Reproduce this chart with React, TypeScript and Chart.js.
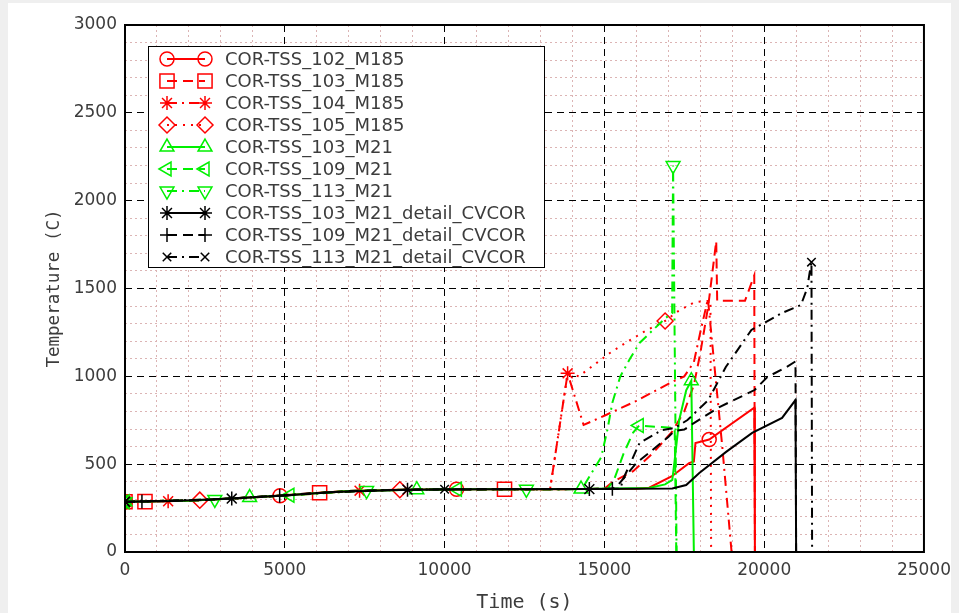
import React, { useEffect, useRef } from 'react';
import { Chart, registerables } from 'chart.js';
import { drawPoint } from 'chart.js/helpers';

Chart.register(...registerables);

// ---------- data (time s / temperature C) ----------
const names = [
  'COR-TSS_102_M185',
  'COR-TSS_103_M185',
  'COR-TSS_104_M185',
  'COR-TSS_105_M185',
  'COR-TSS_103_M21',
  'COR-TSS_109_M21',
  'COR-TSS_113_M21',
  'COR-TSS_103_M21_detail_CVCOR',
  'COR-TSS_109_M21_detail_CVCOR',
  'COR-TSS_113_M21_detail_CVCOR',
];

const t102 = [0, 2000, 4000, 4850, 6000, 7000, 8500, 10375, 13000, 16000, 16400, 17100, 17650, 17800, 17850, 18280, 19690, 19710];
const v102 = [286, 292, 311, 320, 336, 347, 354, 357, 357, 360, 366, 430, 506, 515, 620, 640, 822, 0];
const m102 = [0, 4850, 10375, 18280];

const t103a = [0, 625, 2000, 4000, 6090, 7000, 9000, 11875, 14000, 15000, 15250, 15900, 16500, 17100, 17500, 17800, 18000, 18250, 18500, 18530, 19400, 19690, 19710];
const v103a = [286, 287, 292, 311, 337, 347, 355, 357, 358, 360, 398, 460, 560, 680, 800, 950, 1130, 1400, 1770, 1430, 1430, 1575, 0];
const m103a = [0, 625, 6090, 11875];

const t104 = [0, 1350, 3000, 5000, 7340, 9000, 11000, 13300, 13850, 14350, 15050, 16000, 17125, 17500, 17800, 18000, 18240, 18690, 18980];
const v104 = [286, 289, 301, 321, 349, 355, 357, 357, 1017, 723, 780, 860, 969, 1000, 1080, 1250, 1440, 598, 0];
const m104 = [0, 1350, 7340, 13850];

const t105 = [0, 2340, 4000, 6000, 8600, 10000, 12000, 13300, 13850, 14200, 14750, 15150, 15700, 16300, 16900, 17300, 17800, 18100, 18320, 18340];
const v105 = [286, 295, 311, 336, 354, 357, 357, 357, 1017, 1000, 1075, 1130, 1195, 1260, 1315, 1370, 1420, 1428, 1430, 0];
const m105 = [0, 2340, 8600, 16900];

const t103b = [0, 2000, 3900, 5500, 7000, 9130, 11000, 14270, 16400, 16900, 17125, 17190, 17340, 17560, 17720, 17800];
const v103b = [286, 292, 310, 329, 347, 355, 357, 358, 364, 385, 410, 507, 750, 920, 975, 0];
const m103b = [0, 3900, 9130, 14270, 17720];

const t109b = [0, 2500, 5160, 7000, 8500, 10400, 13000, 15100, 15300, 15600, 15900, 16090, 16700, 17200, 17250];
const v109b = [286, 296, 323, 347, 354, 357, 357, 360, 410, 560, 680, 720, 712, 705, 0];
const m109b = [0, 5160, 10400, 16090];

const t113b = [0, 2810, 5000, 7560, 10000, 12560, 14300, 14500, 14900, 15100, 15250, 15500, 15800, 16100, 16500, 16900, 17120, 17150, 17260];
const v113b = [286, 299, 321, 350, 357, 357, 358, 420, 540, 700, 850, 1000, 1100, 1190, 1260, 1330, 1360, 2200, 0];
const m113b = [0, 2810, 7560, 12560, 17150];

const t103c = [0, 1500, 3340, 5000, 6500, 8840, 11000, 14530, 17125, 17560, 17970, 18810, 19625, 20560, 20980, 21000];
const v103c = [286, 290, 304, 321, 342, 355, 357, 358, 361, 381, 450, 570, 678, 763, 865, 0];
const m103c = [0, 3340, 8840, 14530];

const t109c = [0, 530, 2500, 4840, 7000, 9000, 12000, 15250, 15400, 16000, 16500, 17000, 17200, 17500, 17800, 18600, 19700, 20100, 20700, 20980, 21000];
const v109c = [286, 287, 296, 320, 347, 355, 357, 360, 375, 506, 580, 655, 690, 697, 734, 825, 922, 996, 1053, 1085, 0];
const m109c = [0, 530, 4840, 15250];

const t113c = [0, 3000, 6000, 8000, 10000, 13000, 15500, 15600, 16100, 16800, 17200, 17600, 18250, 18800, 19600, 20050, 20550, 21150, 21350, 21420, 21480, 21500];
const v113c = [286, 301, 336, 352, 357, 357, 360, 420, 620, 694, 706, 751, 865, 1053, 1264, 1309, 1360, 1406, 1503, 1588, 1650, 0];
const m113c = [0, 10000, 21480];

const xTickLabels = ['0', '5000', '10000', '15000', '20000', '25000'];
const yTickLabels = ['0', '500', '1000', '1500', '2000', '2500', '3000'];

const seriesT = [t102, t103a, t104, t105, t103b, t109b, t113b, t103c, t109c, t113c];
const seriesV = [v102, v103a, v104, v105, v103b, v109b, v113b, v103c, v109c, v113c];
const seriesM = [m102, m103a, m104, m105, m103b, m109b, m113b, m103c, m109c, m113c];

// ---------- styles ----------
const RED = '#ff0000';
const GREEN = '#00f000';
const BLACK = '#000000';
const colors = [RED, RED, RED, RED, GREEN, GREEN, GREEN, BLACK, BLACK, BLACK];
const DASH = [10, 6];
const DASHDOT = [10, 5, 2, 5];
const DOT = [2, 6];
const dashes = [[], DASH, DASHDOT, DOT, [], DASH, DASHDOT, [], DASH, DASHDOT];
const pStyles = ['circle', 'rect', 'star', 'rectRot', 'triangle', 'triangle', 'triangle', 'star', 'cross', 'crossRot'];
const pRot = [0, 0, 0, 0, 0, -90, 180, 0, 0, 0];
const pRad = [7, 10, 7, 8, 8, 8, 8, 7, 7, 6];

const TEXT = '#3c3c3c';
const FONT = 'DejaVu Sans';

const bgPlugin = {
  id: 'bg',
  beforeDraw(chart: any) {
    const { ctx, width, height } = chart;
    ctx.save();
    ctx.fillStyle = '#efefef';
    ctx.fillRect(0, 0, width, height);
    ctx.fillStyle = '#ffffff';
    ctx.fillRect(8, 3, 943, height - 3);
    ctx.restore();
  },
};

const framePlugin = {
  id: 'frameLegend',
  afterDraw(chart: any) {
    const { ctx, chartArea: a } = chart;
    ctx.save();
    ctx.strokeStyle = '#000';
    ctx.lineWidth = 2;
    ctx.setLineDash([]);
    ctx.strokeRect(a.left, a.top, a.right - a.left, a.bottom - a.top);

    // legend box
    const bx = 148.5, by = 46.5, bw = 396, bh = 221;
    ctx.fillStyle = '#ffffff';
    ctx.fillRect(bx, by, bw, bh);
    ctx.lineWidth = 1;
    ctx.strokeStyle = '#000';
    ctx.strokeRect(bx, by, bw, bh);
    const ds = chart.data.datasets;
    ds.forEach((d: any, i: number) => {
      const y = 59 + 22 * i;
      const x1 = 167, x2 = 205;
      ctx.save();
      ctx.strokeStyle = d.borderColor;
      ctx.lineWidth = 2;
      ctx.setLineDash(d.borderDash || []);
      ctx.beginPath();
      ctx.moveTo(x1, y);
      ctx.lineTo(x2, y);
      ctx.stroke();
      ctx.setLineDash([]);
      ctx.lineWidth = 1.5;
      ctx.fillStyle = 'rgba(0,0,0,0)';
      const opts = { pointStyle: pStyles[i], rotation: pRot[i], radius: pRad[i], borderWidth: 1.5 };
      drawPoint(ctx, opts as any, x1, y);
      drawPoint(ctx, opts as any, x2, y);
      ctx.restore();
      ctx.fillStyle = TEXT;
      ctx.font = `18px "${FONT}"`;
      ctx.textBaseline = 'middle';
      ctx.textAlign = 'left';
      ctx.fillText(d.label, 225, y + 1);
    });
    ctx.restore();
  },
};

export default function App() {
  const ref = useRef<HTMLCanvasElement>(null);
  useEffect(() => {
    const canvas = ref.current!;
    const datasets = names.map((name, i) => {
      const m = seriesM[i];
      return {
        label: name,
        data: seriesT[i].map((x, j) => ({ x, y: seriesV[i][j] })),
        borderColor: colors[i],
        backgroundColor: colors[i],
        borderWidth: 2,
        borderDash: dashes[i],
        pointStyle: pStyles[i],
        pointRotation: pRot[i],
        pointRadius: (c: any) => (c.raw && m.includes(c.raw.x) ? pRad[i] : 0),
        pointHoverRadius: 0,
        pointBorderColor: colors[i],
        pointBackgroundColor: 'rgba(0,0,0,0)',
        pointBorderWidth: 1.5,
        fill: false,
        tension: 0,
        order: 10 - i,
      };
    });
    const chart = new Chart(canvas, {
      type: 'line',
      data: { datasets } as any,
      options: {
        animation: false,
        responsive: false,
        events: [],
        layout: { padding: { left: 0, top: 25, right: 34, bottom: 0 } },
        plugins: { legend: { display: false }, tooltip: { enabled: false } },
        scales: {
          x: {
            type: 'linear',
            min: 0,
            max: 25000,
            afterFit: (s: any) => { s.height = 61; },
            ticks: {
              stepSize: 1000,
              autoSkip: false,
              maxRotation: 0,
              padding: 8,
              color: TEXT,
              font: { family: FONT, size: 17 },
              callback: (v: any) => (v % 5000 === 0 ? xTickLabels[v / 5000] : ''),
            },
            grid: {
              drawTicks: false,
              color: (c: any) => (c.tick && c.tick.value % 5000 === 0 ? '#000' : '#dcb4b4'),
              lineWidth: 1,
            },
            border: {
              display: false,
              dash: (c: any) => (c.tick && c.tick.value % 5000 === 0 ? [7, 5] : [2, 3]),
            },
            title: {
              display: true,
              text: 'Time (s)',
              color: TEXT,
              font: { family: 'DejaVu Sans Mono', size: 20, lineHeight: 1 },
              padding: { top: 0, bottom: 0 },
            },
          },
          y: {
            type: 'linear',
            min: 0,
            max: 3000,
            afterFit: (s: any) => { s.width = 125; },
            ticks: {
              stepSize: 100,
              autoSkip: false,
              padding: 8,
              color: TEXT,
              font: { family: FONT, size: 17 },
              callback: (v: any) => (v % 500 === 0 ? yTickLabels[v / 500] : ''),
            },
            grid: {
              drawTicks: false,
              color: (c: any) => (c.tick && c.tick.value % 500 === 0 ? '#000' : '#dcb4b4'),
              lineWidth: 1,
            },
            border: {
              display: false,
              dash: (c: any) => (c.tick && c.tick.value % 500 === 0 ? [7, 5] : [2, 3]),
            },
            title: {
              display: true,
              text: 'Temperature (C)',
              color: TEXT,
              font: { family: 'DejaVu Sans Mono', size: 17.5, lineHeight: 1 },
              padding: { top: 46, bottom: 0 },
            },
          },
        },
      } as any,
      plugins: [bgPlugin, framePlugin],
    });
    return () => chart.destroy();
  }, []);
  return (
    <canvas
      ref={ref}
      width={959}
      height={613}
      style={{ position: 'absolute', left: 0, top: 0, width: 959, height: 613, display: 'block' }}
    />
  );
}
